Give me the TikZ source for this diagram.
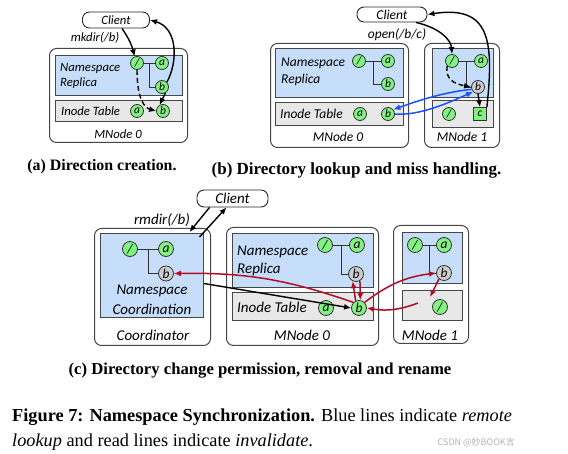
\documentclass[tikz,border=0pt]{standalone}
\usepackage{fontspec}
\setmainfont{Liberation Serif}
\newfontfamily\gill{Carlito}
\newfontfamily\cjk{Noto Sans CJK SC}
\usetikzlibrary{arrows.meta,calc}
\definecolor{nsblue}{RGB}{199,222,250}
\definecolor{itgray}{RGB}{232,232,232}
\definecolor{cgreen}{RGB}{130,242,130}
\definecolor{cgray}{RGB}{205,205,205}
\definecolor{invred}{RGB}{178,12,40}
\definecolor{lkblue}{RGB}{30,80,250}
\definecolor{edgec}{RGB}{70,70,70}
\tikzset{
  frame/.style={draw=edgec, line width=1pt, rounded corners=7pt, fill=white, inner sep=0, anchor=north west},
  nsbox/.style={draw=edgec, line width=1.1pt, fill=nsblue, inner sep=0, anchor=north west},
  itbox/.style={draw=edgec, line width=1.1pt, fill=itgray, inner sep=0, anchor=north west},
  dot/.style={circle, draw=black!80, line width=0.8pt, fill=cgreen, inner sep=0, minimum size=13pt, font=\gill\itshape\fontsize{11.5}{11.5}\selectfont},
  gdot/.style={dot, fill=cgray},
  dotc/.style={dot, minimum size=15pt, font=\gill\itshape\fontsize{13.5}{13.5}\selectfont},
  gdotc/.style={dotc, fill=cgray},
  sqbox/.style={rectangle, draw=black!80, line width=0.8pt, fill=cgreen, inner sep=0, minimum size=13pt, font=\gill\itshape\fontsize{11.5}{11.5}\selectfont},
  client/.style={draw=black!85, line width=0.9pt, rounded corners=7pt, fill=white, inner sep=0},
  txta/.style={inner sep=0, font=\gill\itshape\fontsize{12.7}{14}\selectfont},
  txtb/.style={inner sep=0, font=\gill\itshape\fontsize{13.5}{15}\selectfont},
  txtc/.style={inner sep=0, font=\gill\itshape\fontsize{15}{17}\selectfont},
  tree/.style={draw=black!80, line width=0.9pt},
  arr/.style={-{Latex[length=7pt,width=6pt]}, line width=1.4pt, black},
  arrr/.style={-{Latex[length=7pt,width=6pt]}, line width=1.5pt, invred},
  arrb/.style={-{Latex[length=7pt,width=6pt]}, line width=1.5pt, lkblue},
  dsh/.style={dash pattern=on 5pt off 3pt},
  captxt/.style={inner sep=0, anchor=base},
}
\begin{document}
\begin{tikzpicture}[x=1pt,y=-1pt]
\useasboundingbox (0,0) rectangle (568,454);
% ================= (a) =================
\node[frame, minimum width=138pt, minimum height=94pt] (fa) at (49,48) {};
\node[nsbox, minimum width=127pt, minimum height=40pt] (nsa) at (55,55) {};
\node[itbox, minimum width=127pt, minimum height=21pt] (ita) at (55,100) {};
\node[txta, anchor=west] (ta1) at (60,68) {Namespace};
\node[txta, anchor=west] (ta2) at (60,83) {Replica};
\node[txta, anchor=west] (ta3) at (61,111) {Inode Table};
\node[txta] (mna) at (118,134) {MNode 0};
\node[client, minimum width=67pt, minimum height=16pt, font=\gill\itshape\fontsize{12.7}{14}\selectfont] (cla) at (116,20) {Client};
\node[txta] (opa) at (95,38) {mkdir(/b)};
\node[dot] (as) at (137,63) {/};
\node[dot] (aa) at (162,63) {a};
\node[dot] (ab) at (162,87) {b};
\node[dot] (aia) at (137,111) {a};
\node[dot] (aib) at (163,111) {b};
\draw[tree] (as.east) -- (aa.west);
\draw[tree] ($(as.east)!0.5!(aa.west)$) |- (ab.west);
\draw[arr] ([xshift=6pt]cla.south) to[bend left=10] (as.110);
\draw[arr, dsh] (as.south) .. controls (137,100) and (145,108) .. (aib.west);
\draw[arr] (ab.north east) .. controls (178,62) and (178,28) .. (cla.east);
\draw[arr] (ab.-60) -- (aib.120);
% ================= (b) =================
\node[frame, minimum width=138pt, minimum height=104pt] (fb0) at (270,43) {};
\node[nsbox, minimum width=128pt, minimum height=49pt] (nsb0) at (275,48) {};
\node[itbox, minimum width=128pt, minimum height=23pt] (itb0) at (275,102) {};
\node[txtb, anchor=west] (tb1) at (281,63) {Namespace};
\node[txtb, anchor=west] (tb2) at (281,80) {Replica};
\node[txtb, anchor=west] (tb3) at (280,114) {Inode Table};
\node[txtb] (mnb0) at (338,137) {MNode 0};
\node[dot] (bs) at (359,61) {/};
\node[dot] (ba) at (388,61) {a};
\node[dot] (bb) at (388,84) {b};
\node[dot] (bia) at (360,114) {a};
\node[dot] (bib) at (388,114) {b};
\draw[tree] (bs.east) -- (ba.west);
\draw[tree] ($(bs.east)!0.5!(ba.west)$) |- (bb.west);
\node[frame, minimum width=75pt, minimum height=104pt] (fb1) at (424,43) {};
\node[nsbox, minimum width=61pt, minimum height=49pt] (nsb1) at (432,48) {};
\node[itbox, minimum width=61pt, minimum height=27pt] (itb1) at (432,100) {};
\node[txtb] (mnb1) at (462,137) {MNode 1};
\node[dot] (cs) at (452,61) {/};
\node[dot] (ca) at (481,61) {a};
\node[gdot] (cb) at (478,87) {b};
\node[dot] (ci) at (449,114) {/};
\node[sqbox] (cc) at (480,114) {c};
\draw[tree] (cs.east) -- (ca.west);
\draw[tree] ($(cs.east)!0.5!(ca.west)$) |- (cb.west);
\node[client, minimum width=70pt, minimum height=15pt, font=\gill\itshape\fontsize{13.5}{15}\selectfont] (clb) at (392,14.5) {Client};
\node[txtb] (opb) at (397,35) {open(/b/c)};
\draw[arr] ([xshift=24pt]clb.south) .. controls (440,28) and (451,40) .. (cs.north);
\draw[arr, dsh] (cs.south west) .. controls (445,80) and (455,84) .. (cb.west);
\draw[arr] (cb.south) -- (cc.north);
\draw[arr] (cc.north east) .. controls (494,40) and (490,5) .. (clb.east);
\draw[arrb] (cb.200) .. controls (445,92) and (420,100) .. (bib.40);
\draw[arrb] (bib.east) .. controls (420,116) and (450,102) .. (cb.south west);
% ================= (c) =================
\node[frame, minimum width=116pt, minimum height=117pt] (fc0) at (94,228) {};
\node[nsbox, minimum width=103pt, minimum height=84pt] (nsc0) at (100,233) {};
\node[txtc] (tc1) at (152,291) {Namespace};
\node[txtc] (tc2) at (152,309) {Coordination};
\node[txtc] (mnc0) at (153,335) {Coordinator};
\node[dotc] (ds) at (130,249) {/};
\node[dotc] (da) at (166,249) {a};
\node[gdotc] (db) at (166,273.5) {b};
\draw[tree] (ds.east) -- (da.west);
\draw[tree] ($(ds.east)!0.5!(da.west)$) |- (db.west);
\node[frame, minimum width=152pt, minimum height=118pt] (fc1) at (226,227) {};
\node[nsbox, minimum width=141pt, minimum height=54pt] (nsc1) at (232,233) {};
\node[itbox, minimum width=141pt, minimum height=28pt] (itc1) at (232,292) {};
\node[txtc, anchor=west] (tc3) at (237,252) {Namespace};
\node[txtc, anchor=west] (tc4) at (237,270) {Replica};
\node[txtc, anchor=west] (tc5) at (237,307) {Inode Table};
\node[txtc] (mnc1) at (302,335) {MNode 0};
\node[dotc] (es) at (325,245) {/};
\node[dotc] (ea) at (357,245) {a};
\node[gdotc] (eb) at (356,274) {b};
\node[dotc] (eia) at (326,308) {a};
\node[dotc] (eib) at (359,308) {b};
\draw[tree] (es.east) -- (ea.west);
\draw[tree] ($(es.east)!0.5!(ea.west)$) |- (eb.west);
\node[frame, minimum width=75pt, minimum height=118pt] (fc2) at (393,225) {};
\node[nsbox, minimum width=60pt, minimum height=51pt] (nsc2) at (402,232) {};
\node[itbox, minimum width=60pt, minimum height=30pt] (itc2) at (402,290) {};
\node[txtc] (mnc2) at (430,335) {MNode 1};
\node[dotc] (fs) at (415,245) {/};
\node[dotc] (fa2) at (444,245) {a};
\node[gdotc] (fb) at (444,273) {b};
\node[dotc] (fi) at (440,307) {/};
\draw[tree] (fs.east) -- (fa2.west);
\draw[tree] ($(fs.east)!0.5!(fa2.west)$) |- (fb.west);
\node[client, minimum width=71pt, minimum height=17pt, font=\gill\itshape\fontsize{15}{17}\selectfont] (clc) at (232.5,198.5) {Client};
\node[txtc] (opc) at (162,220) {rmdir(/b)};
\coordinate (g1) at (430,297);
\coordinate (g2) at (418,303);
\draw[arr] ([xshift=-23pt]clc.south) -- ([xshift=37pt,yshift=-4pt]fc0.north);
\draw[arr] ([xshift=47pt,yshift=-9pt]fc0.north) -- ([xshift=-6pt]clc.south);
\draw[arr] ([yshift=-8pt]nsc0.east) -- (eib.west);
\draw[arrr] (eib.north west) to[bend right=10] (db.east);
\draw[arrr] (eib.115) -- (eb.245);
\draw[arrr] (eb.-60) -- (eib.80);
\draw[arrr] (eib.north east) to[bend left=15] (fb.west);
\draw[arrr] (fb.230) -- (g1);
\draw[arrr] (g2) to[bend left=15] (eib.east);
% ================= captions =================
\node[captxt, font=\bfseries\fontsize{15.9}{18}\selectfont] (capa) at (102,170.5) {(a) Direction creation.};
\node[captxt, font=\bfseries\fontsize{17}{19}\selectfont] (capb) at (356.5,175) {(b) Directory lookup and miss handling.};
\node[captxt, font=\bfseries\fontsize{16.7}{19}\selectfont] (capc) at (260,375) {(c) Directory change permission, removal and rename};
\node[inner sep=0, anchor=base west, font=\fontsize{18.3}{20}\selectfont] (fig1) at (12,421.5) {\textbf{Figure 7: Namespace Synchronization.} Blue lines indicate \textit{remote}};
\node[inner sep=0, anchor=base west, font=\fontsize{18.3}{20}\selectfont] (fig2) at (12,446.5) {\textit{lookup} and read lines indicate \textit{invalidate}.};
\node[inner sep=0, anchor=base east, text=black!30, font=\cjk\fontsize{9}{10}\selectfont] (wm) at (515,446) {CSDN @妙BOOK言};
\end{tikzpicture}
\end{document}
